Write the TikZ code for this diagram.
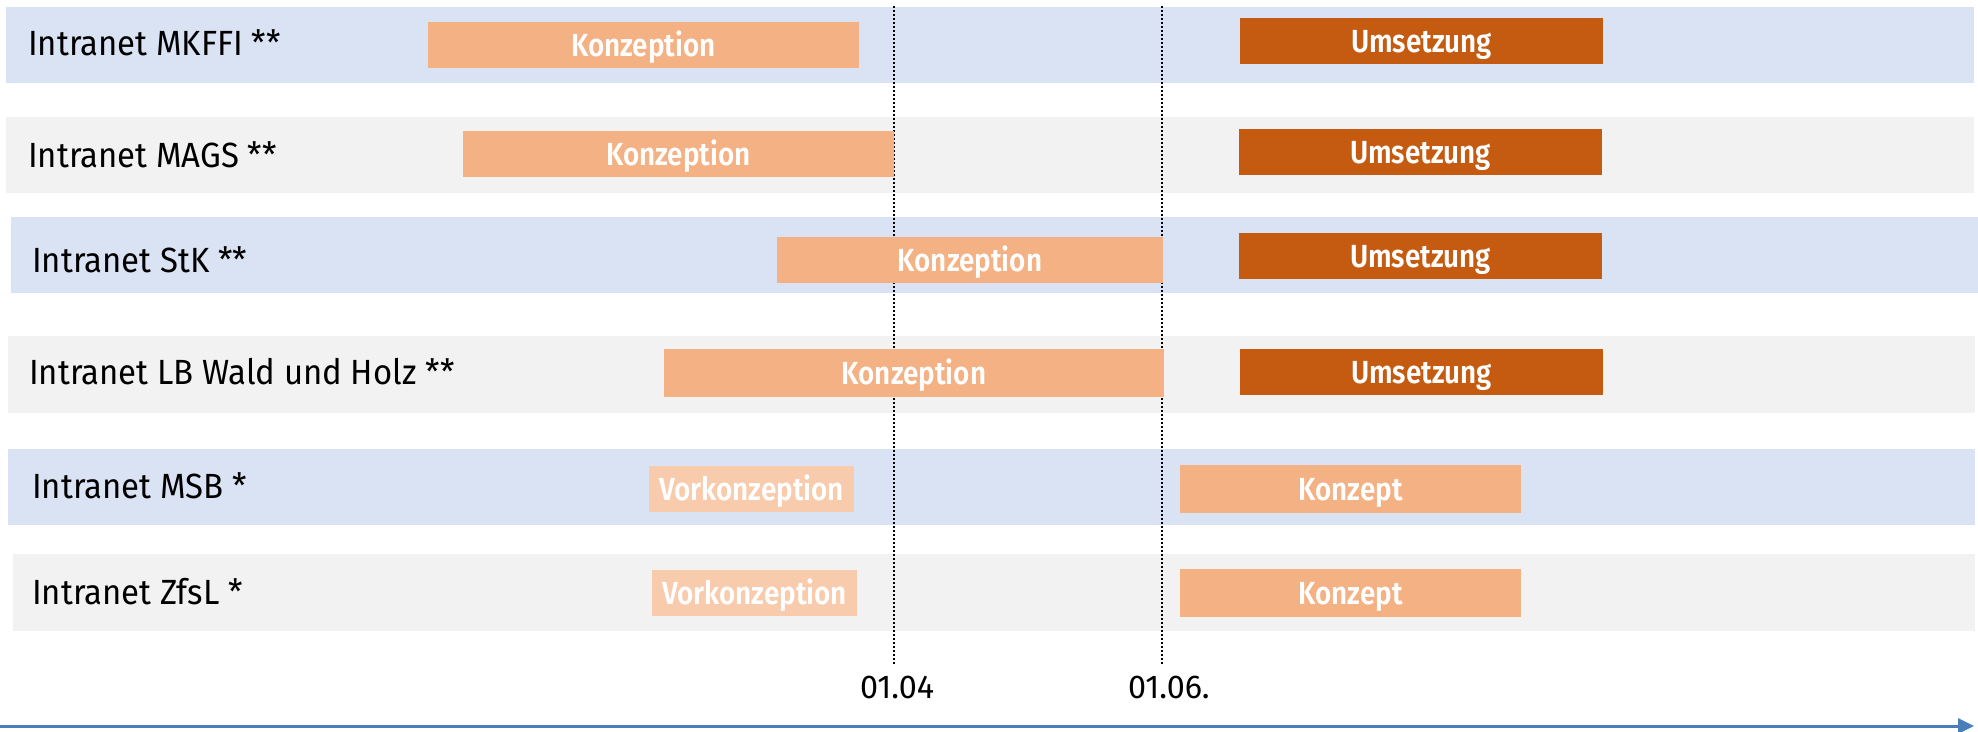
\documentclass[tikz,border=0pt]{standalone}
\usepackage{fontspec}
\setmainfont{Fira Sans}[FakeStretch=0.94]
\newfontfamily\barfont{Fira Sans SemiBold}[FakeStretch=0.87]
\newfontfamily\datefont{Fira Sans}[FakeStretch=0.98]
\usetikzlibrary{arrows.meta}
\definecolor{bandblue}{HTML}{DAE3F3}
\definecolor{bandgray}{HTML}{F2F2F2}
\definecolor{konz}{HTML}{F4B183}
\definecolor{ums}{HTML}{C55A11}
\definecolor{vork}{HTML}{F8CBAD}
\definecolor{axisblue}{HTML}{4A7EBB}
\tikzset{
  bandB/.style={fill=bandblue, draw=none},
  bandG/.style={fill=bandgray, draw=none},
  barbox/.style={draw=none, inner sep=0pt, text=white, font=\fontsize{32}{36}\barfont,
     text height=22pt, text depth=0pt, minimum height=46pt},
  konzbar/.style={barbox, fill=konz},
  umsbar/.style={barbox, fill=ums},
  vorkbar/.style={barbox, fill=vork},
  rowlabel/.style={anchor=base west, inner sep=0pt, font=\fontsize{35}{40}\selectfont},
  datelabel/.style={anchor=base west, inner sep=0pt, font=\fontsize{33}{38}\datefont},
  dateline/.style={draw=black, line width=2pt, dash pattern=on 2pt off 2pt},
  timeaxis/.style={draw=axisblue, line width=3pt, -{Triangle[length=16pt,width=15pt]}}
}
\begin{document}
\begin{tikzpicture}[x=1pt,y=-1pt]
\useasboundingbox (0,0) rectangle (1978,731);
% bands
\path[bandB] (6,7) rectangle (1974,83);
\path[bandG] (6,117) rectangle (1974,193);
\path[bandB] (11,217) rectangle (1978,293);
\path[bandG] (8,336) rectangle (1975,413);
\path[bandB] (8,449) rectangle (1975,525);
\path[bandG] (13,554) rectangle (1975,631);
% row labels
\node[rowlabel] (l1) at (28,55) {Intranet MKFFI **};
\node[rowlabel] (l2) at (28,167) {Intranet MAGS **};
\node[rowlabel] (l3) at (32,272) {Intranet StK **};
\node[rowlabel] (l4) at (29,384) {Intranet LB Wald und Holz **};
\node[rowlabel] (l5) at (32,498) {Intranet MSB *};
\node[rowlabel] (l6) at (32,604) {Intranet ZfsL *};
% date lines
\coordinate (d1top) at (893.5,6);
\coordinate (d1bot) at (893.5,665);
\coordinate (d2top) at (1162,6);
\coordinate (d2bot) at (1162,665);
\draw[dateline] (d1top) -- (d1bot);
\draw[dateline] (d2top) -- (d2bot);
\node[datelabel] (t1) at (860,698) {01.04};
\node[datelabel] (t2) at (1128,698) {01.06.};
% bars
\node[konzbar, minimum width=431pt] (k1) at (643.5,45) {Konzeption};
\node[umsbar, minimum width=363pt] (u1) at (1421.5,41) {Umsetzung};
\node[konzbar, minimum width=431pt] (k2) at (678.5,154) {Konzeption};
\node[umsbar, minimum width=363pt] (u2) at (1420.5,152) {Umsetzung};
\node[konzbar, minimum width=386pt] (k3) at (970,260) {Konzeption};
\node[umsbar, minimum width=363pt] (u3) at (1420.5,256) {Umsetzung};
\node[konzbar, minimum width=500pt, minimum height=48pt] (k4) at (914,373) {Konzeption};
\node[umsbar, minimum width=363pt] (u4) at (1421.5,372) {Umsetzung};
\node[vorkbar, minimum width=205pt] (v5) at (751.5,489) {Vorkonzeption};
\node[konzbar, minimum width=341pt, minimum height=48pt] (c5) at (1350.5,489) {Konzept};
\node[vorkbar, minimum width=205pt] (v6) at (754.5,593) {Vorkonzeption};
\node[konzbar, minimum width=341pt, minimum height=48pt] (c6) at (1350.5,593) {Konzept};
% time axis
\coordinate (axstart) at (0,726);
\coordinate (axend) at (1974,726);
\draw[timeaxis] (axstart) -- (axend);
\end{tikzpicture}
\end{document}
